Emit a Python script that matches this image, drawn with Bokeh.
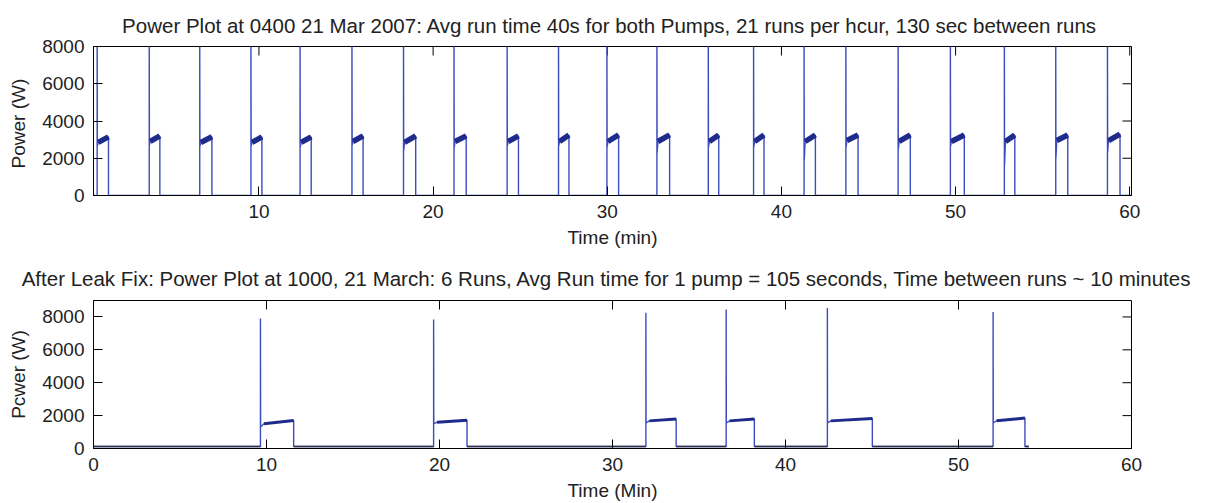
import math
from bokeh.plotting import figure
from bokeh.layouts import column
from bokeh.models import FixedTicker, Range1d, ColumnDataSource
from bokeh.embed import file_html
from bokeh.resources import INLINE

# ---------------- data ----------------
# Top chart: 0400 21 Mar 2007 (time in minutes, power in watts)
top_run_start = [0.71, 3.70, 6.60, 9.54, 12.36, 15.34, 18.30, 21.20, 24.25, 27.20, 29.98,
                 32.85, 35.80, 38.40, 41.30, 43.70, 46.70, 49.70, 52.80, 55.75, 58.72]
top_run_end = [1.36, 4.31, 7.30, 10.17, 13.00, 15.98, 19.00, 21.90, 24.90, 27.80, 30.65,
               33.58, 36.40, 39.00, 41.95, 44.40, 47.40, 50.50, 53.40, 56.44, 59.44]
top_spike = [9000, 8600, 8600, 8600, 8600, 8600, 8600, 8600, 8600, 8600, 8600,
             8600, 8600, 8600, 8600, 8600, 8600, 8600, 8600, 8600, 8600]
top_dip = [2650, 2700, 2650, 2650, 2600, 2700, 2400, 2550, 2650, 2650, 2600,
           2300, 2600, 2600, 1900, 2600, 2500, 2650, 1600, 2000, 2300]
top_plateau_start = [2850, 2900, 2850, 2850, 2850, 2900, 2850, 2900, 2900, 2900, 2900,
                     2900, 2900, 2900, 2900, 2950, 2900, 2900, 2900, 2950, 2950]
top_plateau_end = [3150, 3200, 3150, 3150, 3150, 3200, 3200, 3200, 3200, 3250, 3250,
                   3250, 3250, 3250, 3250, 3250, 3250, 3250, 3250, 3250, 3300]
top_base = 0
top_t_first, top_t_last = 0.5, 60.2

# Bottom chart: after leak fix, 1000 21 March
bot_run_start = [9.65, 19.66, 31.93, 36.57, 42.42, 52.00]
bot_run_end = [11.57, 21.59, 33.68, 38.20, 45.02, 53.84]
bot_spike = [7900, 7850, 8250, 8450, 8550, 8300]
bot_dip = [1300, 1500, 1550, 1550, 1550, 1550]
bot_plateau_start = [1500, 1600, 1680, 1680, 1680, 1690]
bot_plateau_end = [1700, 1720, 1790, 1790, 1820, 1850]
bot_base = 120
bot_t_first, bot_t_last = 0.0, 54.07

# Axes / labels
top_title = ("Power Plot at 0400 21 Mar 2007:  Avg run time 40s for both Pumps, "
             "21 runs per hcur, 130 sec between runs")
bot_title = ("After Leak Fix:  Power Plot at 1000, 21 March:  6 Runs, Avg Run time for "
             "1 pump = 105 seconds, Time between runs ~ 10 minutes")
top_xticks = [10, 20, 30, 40, 50, 60]
bot_xticks = [0, 10, 20, 30, 40, 50, 60]
y_ticks = [0, 2000, 4000, 6000, 8000]
top_xlabel, top_ylabel = "Time (min)", "Power  (W)"
bot_xlabel, bot_ylabel = "Time (Min)", "Pcwer (W)"

LINE = "#3b4cc0"
DENSE = "#1f2b8a"
TXT = "#222222"
FONT = "Liberation Sans"
FS = "19px"
TITLE_FS = "20.5px"


def build_trace(starts, ends, spikes, dips, p0, p1, base, t0, t1, rise):
    xs, ys = [t0], [base]
    px, py = [], []
    for s, e, sp, d, a, b in zip(starts, ends, spikes, dips, p0, p1):
        xs += [s, s, s + 0.01, s + rise, e, e]
        ys += [base, sp, d, a, b, base]
        px.append([s + rise, e])
        py.append([a, b])
    xs.append(t1)
    ys.append(base)
    return xs, ys, px, py


def make_fig(title, xr, yr, xticks, xlabel, ylabel, height, btop, bbot, tstand):
    p = figure(width=1205, height=height, x_range=Range1d(*xr), y_range=Range1d(*yr),
               output_backend="svg", toolbar_location=None,
               min_border_left=93, min_border_right=74,
               min_border_top=btop, min_border_bottom=bbot)
    p.title.text = title
    p.title.align = "center"
    p.title.text_font = FONT
    p.title.text_font_size = TITLE_FS
    p.title.text_font_style = "normal"
    p.title.text_color = TXT
    p.title.standoff = tstand
    p.grid.visible = False
    p.outline_line_color = "black"
    p.background_fill_color = "white"
    p.border_fill_color = "white"
    p.xaxis.ticker = FixedTicker(ticks=xticks)
    p.yaxis.ticker = FixedTicker(ticks=y_ticks)
    p.xaxis.axis_label = xlabel
    p.yaxis.axis_label = ylabel
    for ax in [p.xaxis[0], p.yaxis[0]]:
        ax.major_tick_in = 9
        ax.major_tick_out = 0
        ax.minor_tick_line_color = None
        ax.axis_line_color = "black"
        ax.major_tick_line_color = "black"
        ax.major_label_text_font = FONT
        ax.major_label_text_font_size = FS
        ax.major_label_text_color = TXT
        ax.axis_label_text_font = FONT
        ax.axis_label_text_font_size = FS
        ax.axis_label_text_font_style = "normal"
        ax.axis_label_text_color = TXT
    p.xaxis.major_label_standoff = 9
    p.xaxis.axis_label_standoff = 6
    p.yaxis.major_label_standoff = 9
    p.yaxis.axis_label_standoff = 10
    # inward tick marks on the top and right edges of the box
    p.ray(x=xticks, y=[yr[1]] * len(xticks), length=9, length_units="screen",
          angle=-math.pi / 2, line_color="black", line_width=1)
    p.ray(x=[xr[1]] * len(y_ticks), y=y_ticks, length=9, length_units="screen",
          angle=math.pi, line_color="black", line_width=1)
    return p


# ---------------- top chart ----------------
tx, ty, tpx, tpy = build_trace(top_run_start, top_run_end, top_spike, top_dip,
                               top_plateau_start, top_plateau_end, top_base,
                               top_t_first, top_t_last, rise=0.06)
p1 = make_fig(top_title, (0.5, 60.1), (0, 8000), top_xticks, top_xlabel, top_ylabel,
              250, 46, 55, 20)
p1.line(x="x", y="y", source=ColumnDataSource(dict(x=tx, y=ty)), line_color=LINE, line_width=1.4)
p1.multi_line(xs=tpx, ys=tpy, line_color=DENSE, line_width=5.5)

# ---------------- bottom chart ----------------
bx, by, bpx, bpy = build_trace(bot_run_start, bot_run_end, bot_spike, bot_dip,
                               bot_plateau_start, bot_plateau_end, bot_base,
                               bot_t_first, bot_t_last, rise=0.2)
p2 = make_fig(bot_title, (0, 60), (0, 9000), bot_xticks, bot_xlabel, bot_ylabel,
              253, 50, 54, 21)
p2.line(x="x", y="y", source=ColumnDataSource(dict(x=bx, y=by)), line_color=LINE, line_width=1.4)
p2.multi_line(xs=bpx, ys=bpy, line_color=DENSE, line_width=3)
# baseline between runs drawn dark (dense noise)
seg_x = [[a, b] for a, b in zip([bot_t_first] + bot_run_end, bot_run_start + [bot_t_last])]
seg_y = [[bot_base, bot_base] for _ in seg_x]
p2.multi_line(xs=seg_x, ys=seg_y, line_color="#333344", line_width=1.6)

layout = column(p1, p2, spacing=0)
open("out.html", "w").write(file_html(layout, INLINE))
